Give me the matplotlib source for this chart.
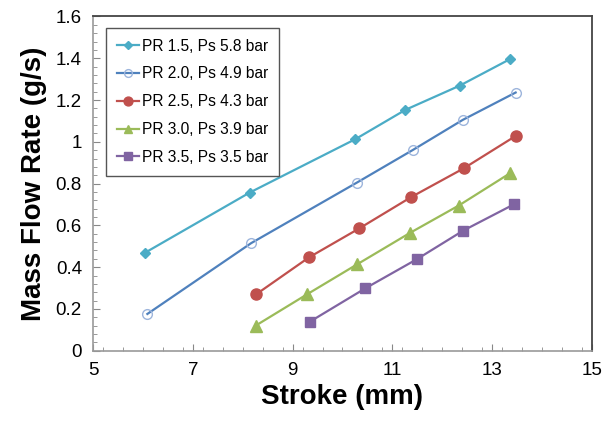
import matplotlib
matplotlib.use('Agg')
import matplotlib.pyplot as plt
from matplotlib.ticker import MultipleLocator, FixedLocator

plt.rcParams['font.family'] = ['Liberation Sans', 'DejaVu Sans']

# stroke (mm) and mass flow rate (g/s)
x_pr15 = [6.05, 8.14, 10.26, 11.26, 12.35, 13.35]
y_pr15 = [0.47, 0.757, 1.013, 1.153, 1.269, 1.395]

x_pr20 = [6.09, 8.17, 10.29, 11.41, 12.41, 13.47]
y_pr20 = [0.176, 0.515, 0.805, 0.961, 1.105, 1.236]

x_pr25 = [8.27, 9.33, 10.34, 11.38, 12.43, 13.47]
y_pr25 = [0.27, 0.447, 0.586, 0.736, 0.873, 1.028]

x_pr30 = [8.26, 9.29, 10.29, 11.36, 12.33, 13.36]
y_pr30 = [0.12, 0.27, 0.413, 0.565, 0.695, 0.85]

x_pr35 = [9.34, 10.46, 11.49, 12.42, 13.43]
y_pr35 = [0.138, 0.299, 0.438, 0.575, 0.70]

labels = ['PR 1.5, Ps 5.8 bar', 'PR 2.0, Ps 4.9 bar', 'PR 2.5, Ps 4.3 bar',
          'PR 3.0, Ps 3.9 bar', 'PR 3.5, Ps 3.5 bar']
x_ticks = [5, 7, 9, 11, 13, 15]

fig = plt.figure(figsize=(6.05, 4.25), dpi=100)
ax = fig.add_axes([0.1537, 0.1748, 0.8248, 0.7864])

ax.plot(x_pr15, y_pr15, color='#4BACC6', marker='D', markersize=5, lw=1.6, label=labels[0])
ax.plot(x_pr20, y_pr20, color='#4F81BD', marker='o', markersize=7, markerfacecolor='none',
        markeredgecolor='#9DB5DC', markeredgewidth=1.0, lw=1.6, label=labels[1])
ax.plot(x_pr25, y_pr25, color='#C0504D', marker='o', markersize=8, lw=1.6, label=labels[2])
ax.plot(x_pr30, y_pr30, color='#9BBB59', marker='^', markersize=8, lw=1.6, label=labels[3])
ax.plot(x_pr35, y_pr35, color='#8064A2', marker='s', markersize=7, lw=1.6, label=labels[4])

ax.set_xlim(5, 15)
ax.set_ylim(0, 1.6)
ax.xaxis.set_major_locator(FixedLocator(x_ticks))
ax.xaxis.set_minor_locator(MultipleLocator(0.4))
ax.yaxis.set_major_locator(MultipleLocator(0.2))
ax.yaxis.set_minor_locator(MultipleLocator(0.04))
ax.yaxis.set_major_formatter(plt.FuncFormatter(lambda v, p: f'{v:g}'))

ax.tick_params(which='both', direction='in', color='#888888', labelsize=13.5, pad=8)
ax.tick_params(which='major', length=5)
ax.tick_params(which='minor', length=3)

for side in ['left', 'bottom']:
    ax.spines[side].set_color('#999999')
    ax.spines[side].set_linewidth(1.2)
for side in ['top', 'right']:
    ax.spines[side].set_color('#444444')
    ax.spines[side].set_linewidth(1.3)

ax.set_xlabel('Stroke (mm)', fontsize=20, fontweight='bold', labelpad=4)
ax.set_ylabel('Mass Flow Rate (g/s)', fontsize=20, fontweight='bold', labelpad=6)

leg = ax.legend(loc='upper left', bbox_to_anchor=(0.026, 0.966), borderaxespad=0,
                fontsize=11.2, handlelength=1.4, handletextpad=0.2, labelspacing=0.82,
                borderpad=0.7, fancybox=False, framealpha=1, markerscale=0.8)
leg.get_frame().set_edgecolor('#555555')
leg.get_frame().set_linewidth(1.0)

plt.savefig('out.png', dpi=100)
